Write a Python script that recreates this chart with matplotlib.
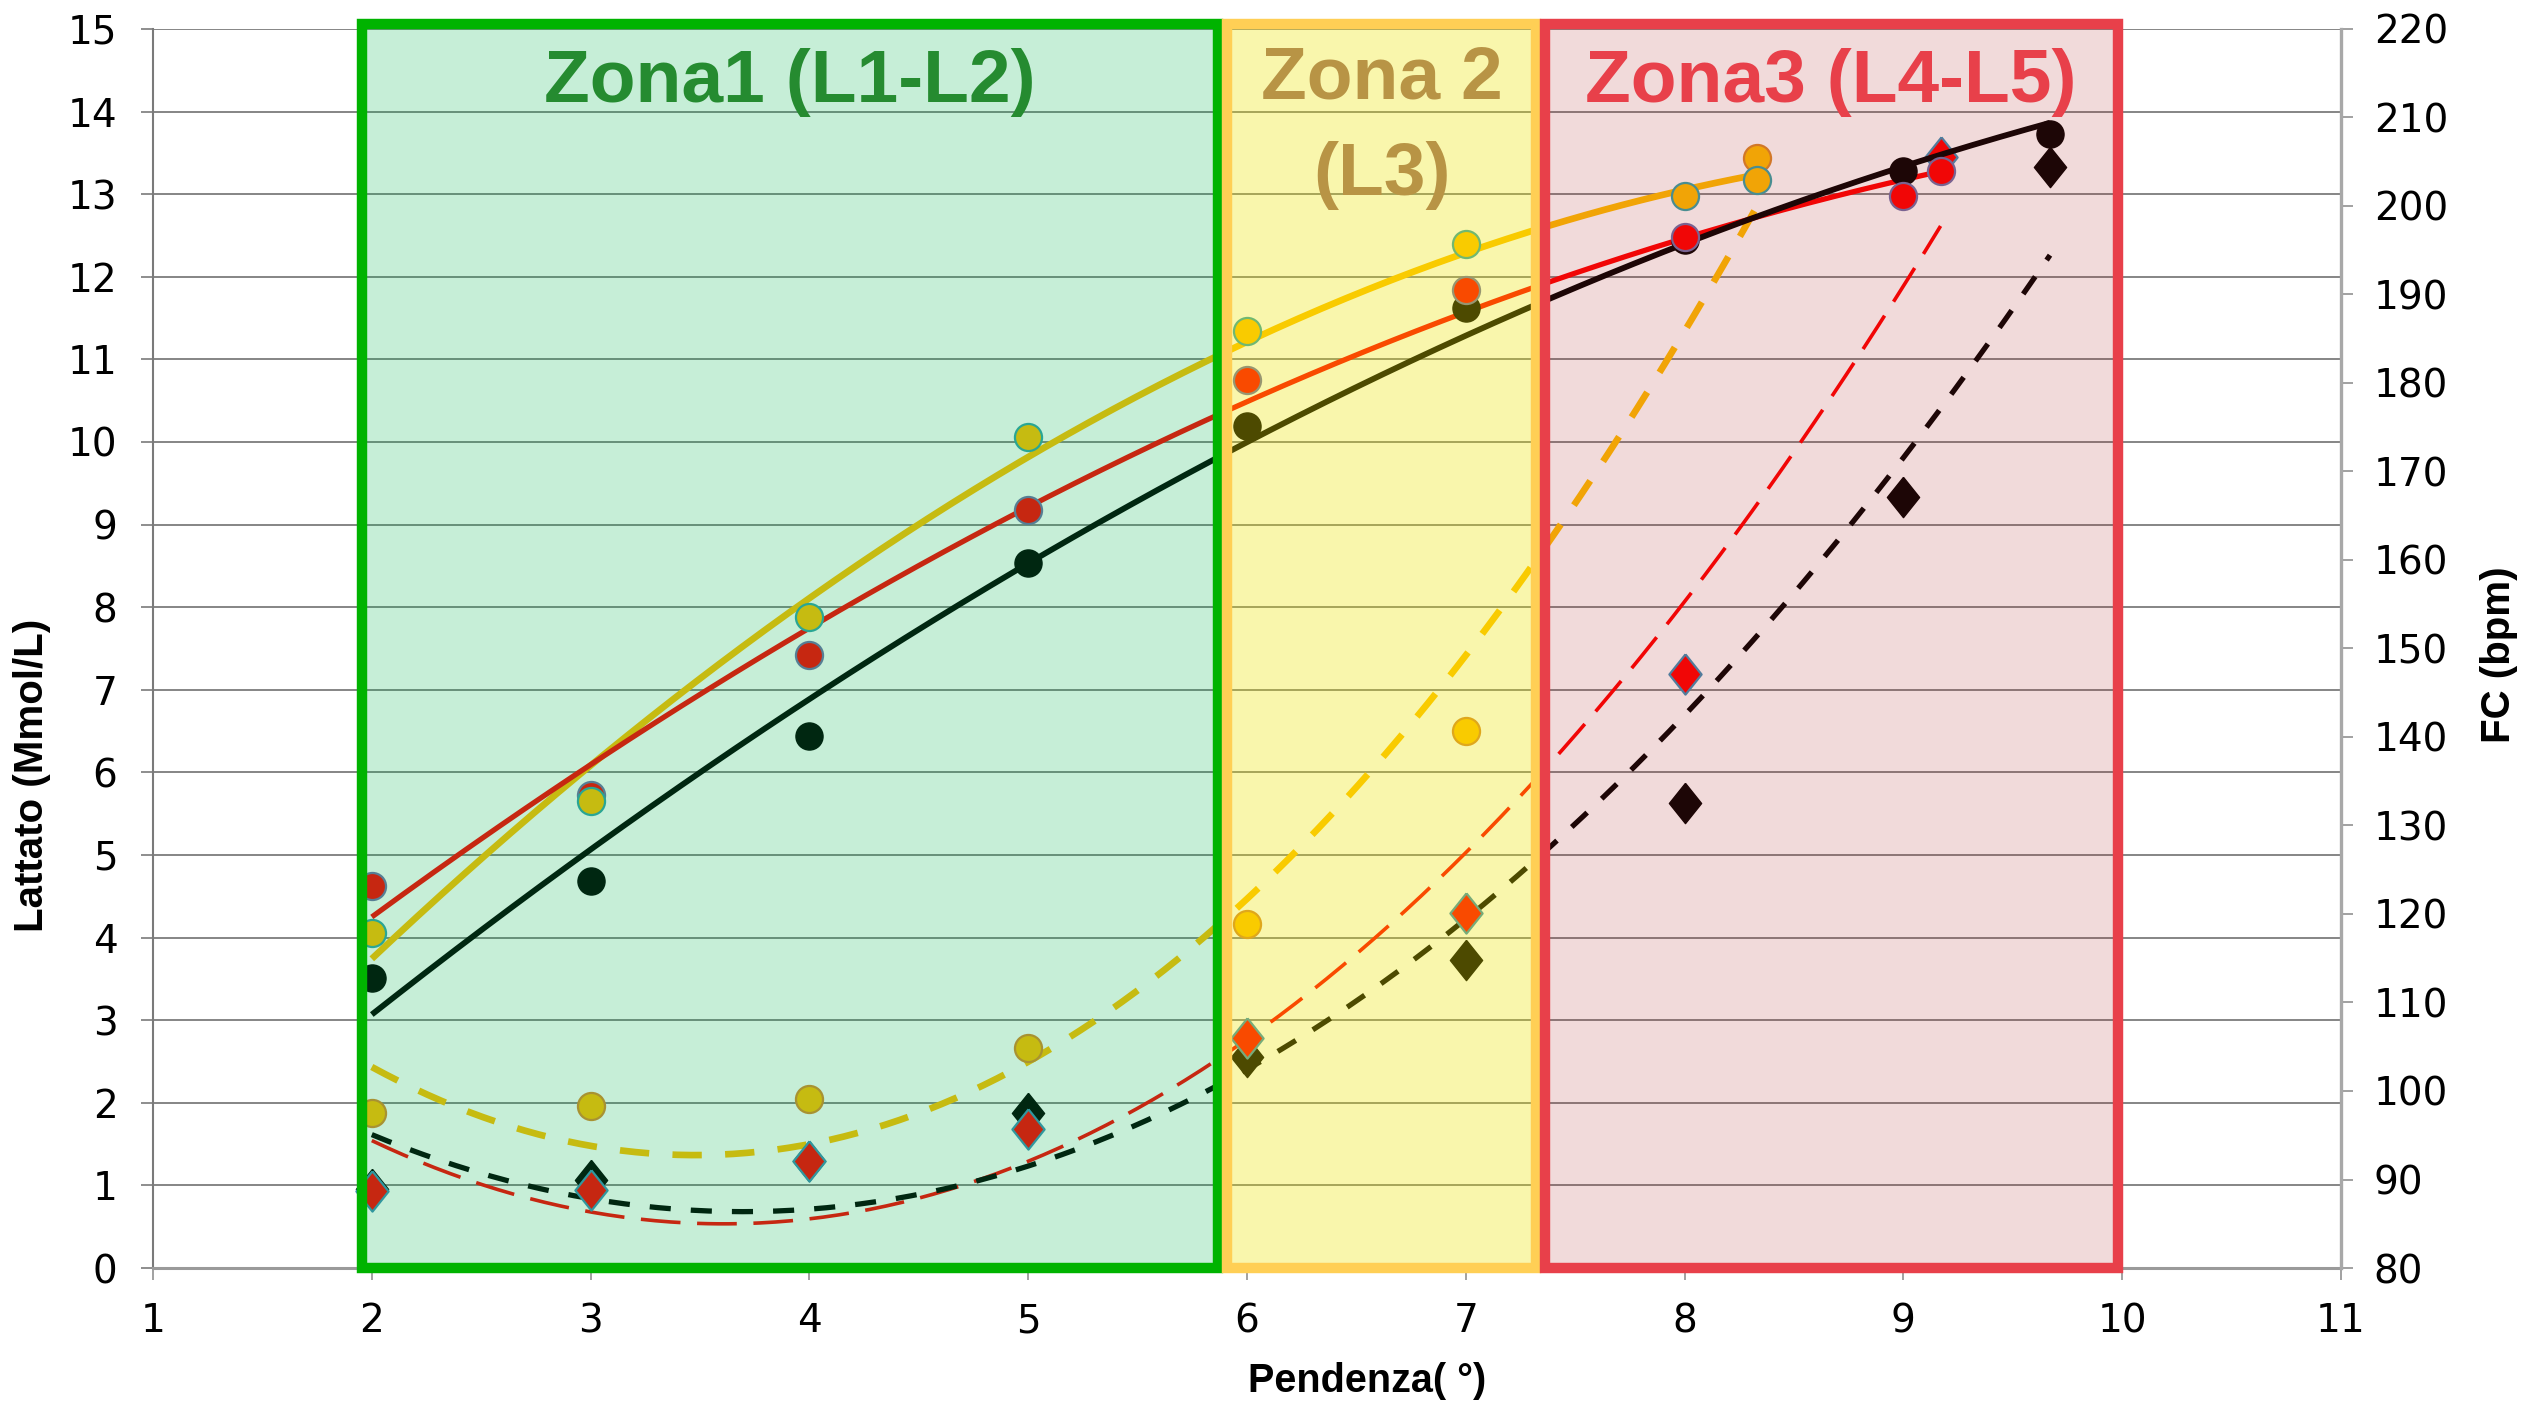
import numpy as np
import matplotlib
matplotlib.use("Agg")
import matplotlib.pyplot as plt
from matplotlib.patches import Rectangle

# ---- data -------------------------------------------------------------
# heart rate (FC, bpm) per slope stage
x_fc_yellow = [2, 3, 4, 5, 6, 7, 8, 8.33]
fc_yellow = [117.9, 132.8, 153.6, 173.9, 185.9, 195.7, 201.1, 202.9]
x_fc_red = [2, 3, 4, 5, 6, 7, 8, 9, 9.17]
fc_red = [123.2, 133.4, 149.3, 165.7, 180.3, 190.5, 196.5, 201.1, 204.0]
x_fc_black = [2, 3, 4, 5, 6, 7, 8, 9, 9.67]
fc_black = [112.8, 123.7, 140.1, 159.7, 175.1, 188.5, 196.2, 203.9, 208.1]

# blood lactate (mmol/L) per slope stage
x_lat_yellow = [2, 3, 4, 5, 6, 7, 8.33]
lat_yellow = [1.875, 1.96, 2.04, 2.66, 4.17, 6.5, 13.44]
x_lat_red = [2, 3, 4, 5, 6, 7, 8, 9.17]
lat_red = [0.93, 0.95, 1.30, 1.68, 2.79, 4.30, 7.19, 13.45]
x_lat_black = [2, 3, 4, 5, 6, 7, 8, 9, 9.67]
lat_black = [0.96, 1.07, 1.30, 1.875, 2.56, 3.73, 5.63, 9.34, 13.33]

# training zones along the slope axis
zone_names = ["Zona1 (L1-L2)", "Zona 2", "Zona3 (L4-L5)"]
zone_bounds = [(1.957, 5.866), (5.909, 7.323), (7.362, 9.98)]

x_ticks = list(range(1, 12))
lat_ticks = list(range(0, 16))
fc_ticks = list(range(80, 221, 10))

# ---- styling ----------------------------------------------------------
YELLOW = "#FFBE00"
RED = "#FF0000"
BLACK = "#000000"
NARROW = ["Liberation Sans Narrow", "DejaVu Sans Condensed", "DejaVu Sans"]
BOLD = ["Liberation Sans", "Arial", "DejaVu Sans"]

diamond = [(0, 1), (0.8, 0), (0, -1), (-0.8, 0), (0, 1)]
DIA_MS = 29
CIR_MS = 19.5

fig = plt.figure(figsize=(25.23, 14.02), dpi=100)
ax = fig.add_axes([153 / 2523, 1 - 1268 / 1402, 2188 / 2523, 1239 / 1402])
ax2 = ax.twinx()

ax.set_xlim(1, 11)
ax.set_ylim(0, 15)
ax2.set_ylim(80, 220)


def trend(axis, x, y, color, lw, dashes=None, z=3):
    coef = np.polyfit(x, y, 2)
    xs = np.linspace(min(x), max(x), 300)
    kw = dict(color=color, lw=lw, zorder=z, solid_capstyle="butt",
              dash_capstyle="butt")
    line, = axis.plot(xs, np.polyval(coef, xs), **kw)
    if dashes is not None:
        line.set_dashes(dashes)


# lactate trend lines (dashed, quadratic) and points
trend(ax, x_lat_yellow, lat_yellow, YELLOW, 4.8, (4.4, 3.5))
trend(ax, x_lat_red, lat_red, RED, 2.6, (11, 4.6))
trend(ax, x_lat_black, lat_black, BLACK, 3.8, (4.0, 3.8))

ax.plot(x_lat_black, lat_black, ls="none", marker=diamond, ms=DIA_MS,
        mfc=BLACK, mec=BLACK, mew=1.0, zorder=4)
ax.plot(x_lat_red, lat_red, ls="none", marker=diamond, ms=DIA_MS,
        mfc=RED, mec="#3F8FB5", mew=1.6, zorder=5)
ax.plot(x_lat_yellow, lat_yellow, ls="none", marker="o", ms=CIR_MS,
        mfc=YELLOW, mec="#D9892A", mew=1.6, zorder=5)

# heart-rate trend lines (solid, quadratic) and points
trend(ax2, x_fc_yellow, fc_yellow, YELLOW, 4.8)
trend(ax2, x_fc_red, fc_red, RED, 3.8)
trend(ax2, x_fc_black, fc_black, BLACK, 4.2)

ax2.plot(x_fc_black, fc_black, ls="none", marker="o", ms=CIR_MS,
         mfc=BLACK, mec=BLACK, mew=1.0, zorder=4)
ax2.plot(x_fc_red, fc_red, ls="none", marker="o", ms=CIR_MS,
         mfc=RED, mec="#6F70A8", mew=1.6, zorder=5)
ax2.plot(x_fc_yellow, fc_yellow, ls="none", marker="o", ms=CIR_MS,
         mfc=YELLOW, mec="#35A3A8", mew=1.6, zorder=6)

# translucent zone overlays tint everything beneath them
overlays = [((0.0, 0.70, 0.31), 0.224, "#00B300"),
            ((0.93, 0.90, 0.0), 0.325, "#FFCF55"),
            ((0.69, 0.14, 0.14), 0.17, "#E8404A")]
top = 15.065
for (x0, x1), (fc, alpha, ec) in zip(zone_bounds, overlays):
    ax2.add_patch(Rectangle((x0, 0), x1 - x0, top, transform=ax.transData,
                            facecolor=fc, alpha=alpha, edgecolor="none",
                            zorder=20, clip_on=False))
for (x0, x1), (fc, alpha, ec) in zip(zone_bounds, overlays):
    ax2.add_patch(Rectangle((x0, 0), x1 - x0, top, transform=ax.transData,
                            fill=False, edgecolor=ec, lw=7.5,
                            joinstyle="miter", zorder=21, clip_on=False))

title_kw = dict(transform=ax.transData, fontsize=54, fontweight="bold",
                family=BOLD, ha="center", va="baseline", zorder=22)
ax2.text(3.91, 14.12, zone_names[0], color="#258B30", **title_kw)
ax2.text(6.617, 14.16, zone_names[1], color="#B89445", **title_kw)
ax2.text(6.617, 12.99, "(L3)", color="#B89445", **title_kw)
ax2.text(8.67, 14.12, zone_names[2], color="#E8404A", **title_kw)

# ---- axes -------------------------------------------------------------
ax.set_xticks(x_ticks)
ax.set_yticks(lat_ticks)
ax2.set_yticks(fc_ticks)

ax.grid(axis="y", color="#858585", lw=1.4)
ax.set_axisbelow(True)

for s in ("top", "right"):
    ax.spines[s].set_visible(False)
for s in ("top", "left", "bottom"):
    ax2.spines[s].set_visible(False)
ax.spines["left"].set_color("#7A7A7A")
ax.spines["left"].set_linewidth(1.5)
ax.spines["bottom"].set_color("#9A9A9A")
ax.spines["bottom"].set_linewidth(2.2)
ax2.spines["right"].set_color("#A8A8A8")
ax2.spines["right"].set_linewidth(2.4)

ax.tick_params(axis="y", direction="out", length=8.6, width=1.3,
               color="#858585", pad=17)
ax.tick_params(axis="x", direction="out", length=8.6, width=1.3,
               color="#9A9A9A", pad=16)
ax2.tick_params(axis="y", direction="out", length=8.6, width=1.3,
                color="#9A9A9A", pad=15)

for lab in ax.get_xticklabels() + ax.get_yticklabels() + ax2.get_yticklabels():
    lab.set_fontfamily(NARROW)
    lab.set_fontsize(28)
    lab.set_color("black")

label_kw = dict(fontweight="bold", family=BOLD, color="black")
fig.text(1367 / 2523, 1 - 1392 / 1402, "Pendenza( °)", ha="center",
         va="baseline", fontsize=28.5, **label_kw)
fig.text(32 / 2523, 1 - 775 / 1402, "Lattato (Mmol/L)", rotation=90,
         ha="center", va="center", fontsize=29, **label_kw)
fig.text(2499 / 2523, 1 - 655 / 1402, "FC (bpm)", rotation=90,
         ha="center", va="center", fontsize=29, **label_kw)

fig.savefig("out.png", dpi=100, facecolor="white")
